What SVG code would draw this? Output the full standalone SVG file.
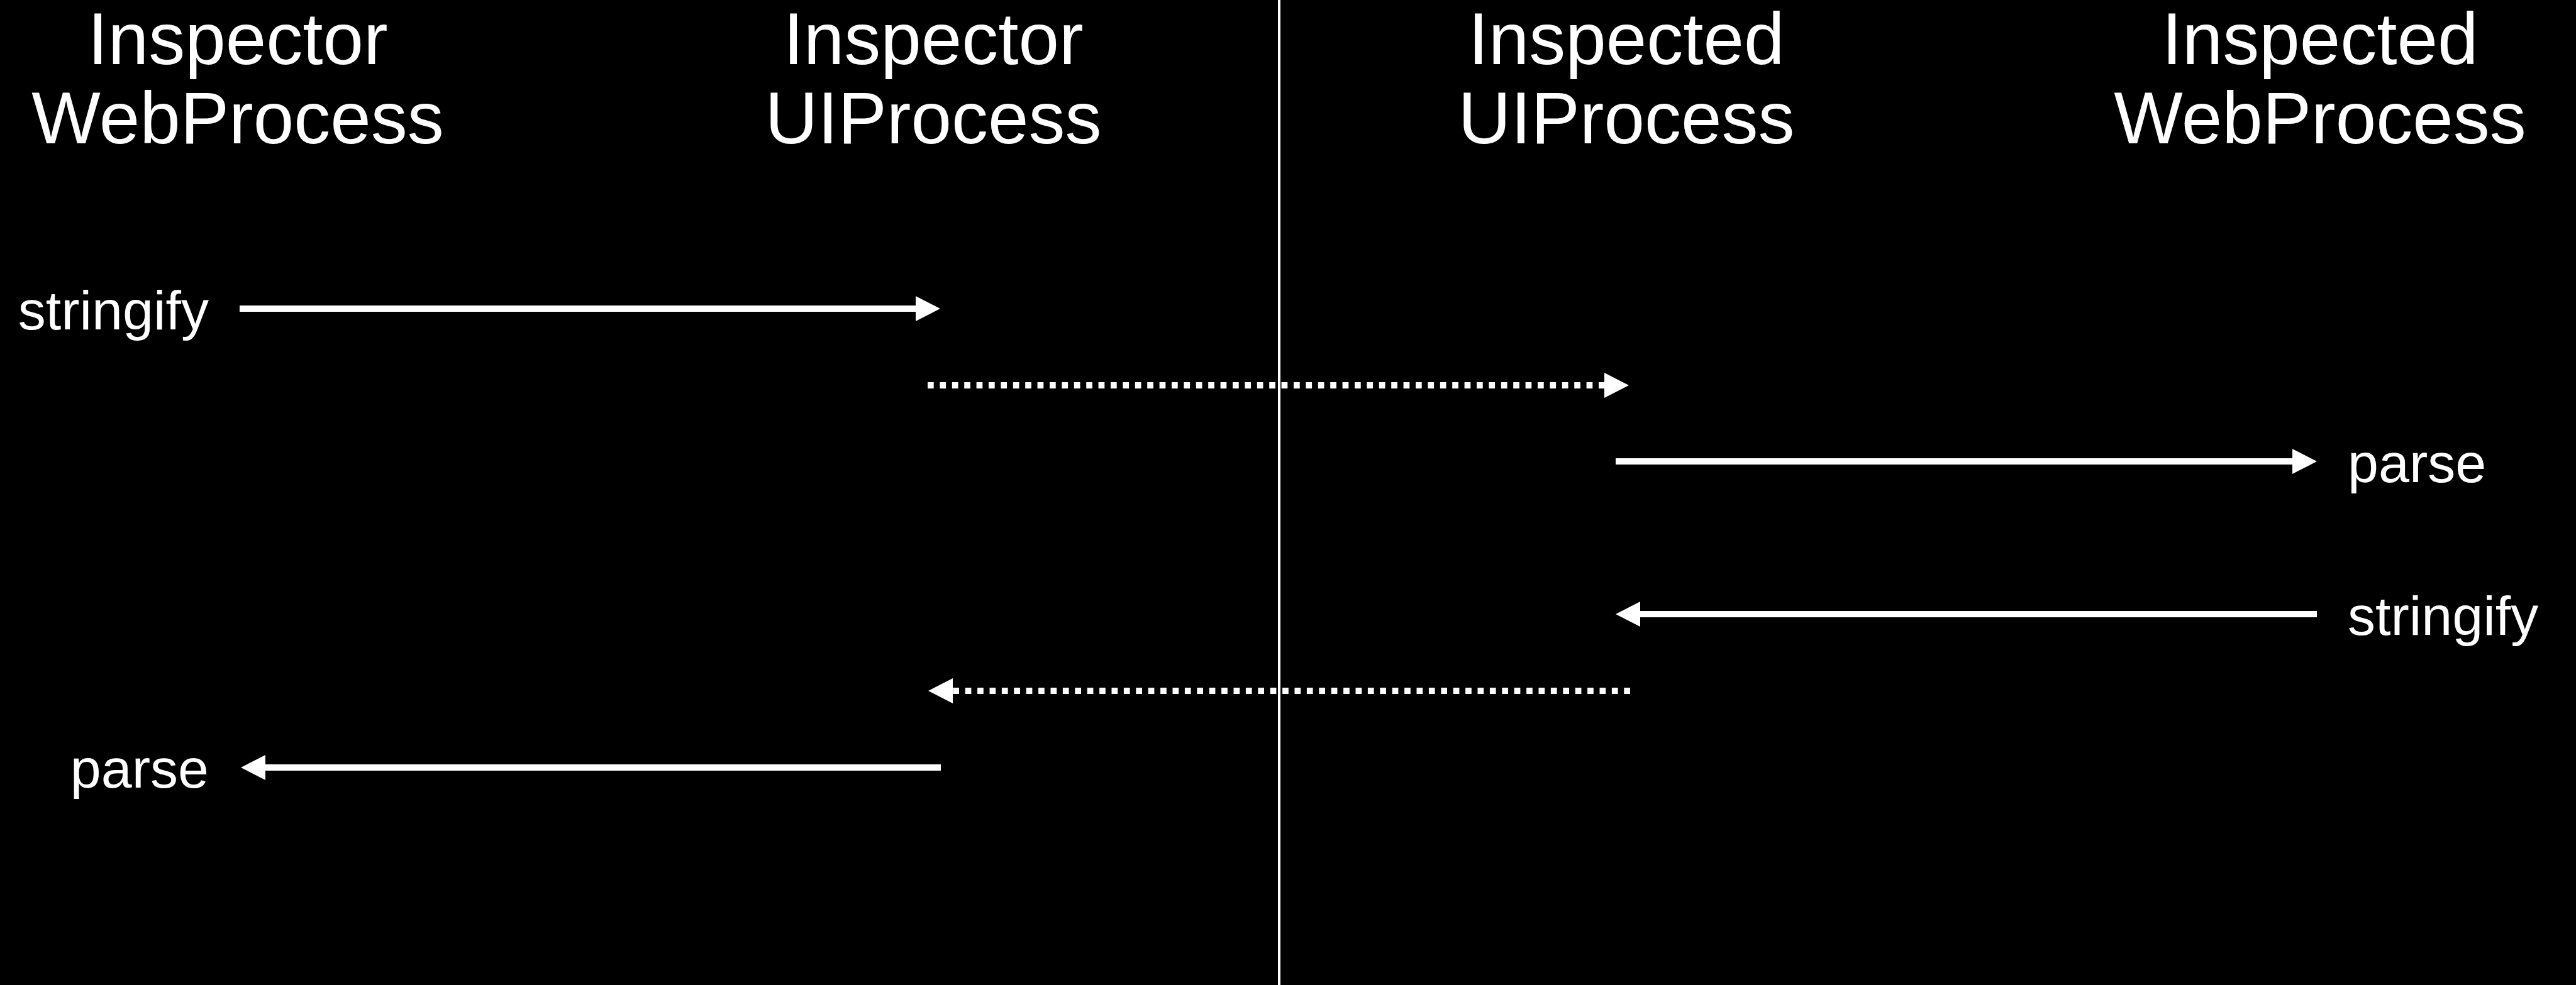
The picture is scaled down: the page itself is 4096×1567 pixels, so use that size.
<svg xmlns="http://www.w3.org/2000/svg" width="4096" height="1567" viewBox="0 0 4096 1567">
<style>
.hdr{font-family:"Liberation Sans",Arial,sans-serif;font-size:116px;fill:#fff;text-anchor:middle}
.lbl{font-family:"Liberation Sans",Arial,sans-serif;font-size:88px;fill:#fff}
.solid{stroke:#fff;stroke-width:10;fill:none}
.dot{stroke:#fff;stroke-width:10;fill:none;stroke-dasharray:9.7 9.7}
</style>
<defs>
<marker id="ah" markerUnits="userSpaceOnUse" viewBox="0 0 39 40" markerWidth="39" markerHeight="40" refX="0" refY="20" orient="auto">
<path d="M0,0 L39,20 L0,40 z" fill="#fff"/>
</marker>
</defs>
<rect width="4096" height="1567" fill="#000"/>
<line x1="2034" y1="0" x2="2034" y2="1567" stroke="#fff" stroke-width="4"/>
<g id="inspector-webprocess"><text class="hdr" x="378" y="102">Inspector</text><text class="hdr" x="378" y="228">WebProcess</text></g>
<g id="inspector-uiprocess"><text class="hdr" x="1484" y="102">Inspector</text><text class="hdr" x="1484" y="228">UIProcess</text></g>
<g id="inspected-uiprocess"><text class="hdr" x="2586" y="102">Inspected</text><text class="hdr" x="2586" y="228">UIProcess</text></g>
<g id="inspected-webprocess"><text class="hdr" x="3689" y="102">Inspected</text><text class="hdr" x="3689" y="228">WebProcess</text></g>
<g id="label-stringify-left"><text class="lbl" x="332" y="524" text-anchor="end">stringify</text></g>
<g id="label-parse-right"><text class="lbl" x="3733" y="767">parse</text></g>
<g id="label-stringify-right"><text class="lbl" x="3733" y="1010">stringify</text></g>
<g id="label-parse-left"><text class="lbl" x="332" y="1253" text-anchor="end">parse</text></g>
<g id="connectors">
<line class="solid" x1="381" y1="491" x2="1456" y2="491" marker-end="url(#ah)"/>
<line class="dot" x1="1475" y1="613" x2="2551" y2="613" marker-end="url(#ah)"/>
<line class="solid" x1="2569" y1="734" x2="3645" y2="734" marker-end="url(#ah)"/>
<line class="solid" x1="3684" y1="977" x2="2608" y2="977" marker-end="url(#ah)"/>
<line class="dot" x1="2592" y1="1099" x2="1515" y2="1099" marker-end="url(#ah)"/>
<line class="solid" x1="1496" y1="1221" x2="422" y2="1221" marker-end="url(#ah)"/>
</g>
</svg>
